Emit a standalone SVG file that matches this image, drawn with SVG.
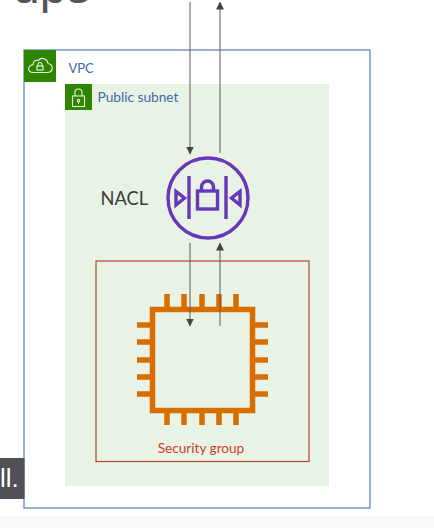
<svg xmlns="http://www.w3.org/2000/svg" width="434" height="528" viewBox="0 0 434 528">
<defs>
<marker id="ah" markerWidth="8" markerHeight="8" refX="7.500" refY="4" orient="auto" markerUnits="userSpaceOnUse"><path d="M0 0L8 4L0 8Z" fill="#444"/></marker>
</defs>
<style>
text{font-family:"Lato","Liberation Sans",sans-serif}
.conn{fill:none;stroke:#5a5a5a;stroke-width:1;marker-end:url(#ah)}
.wh{fill:none;stroke:#fff;stroke-width:1.1;opacity:.9}
.pur{fill:none;stroke:#6638b8;stroke-width:3.400}
.pin{stroke:#d96d00;stroke-width:5.500;fill:none}
</style>
<rect width="434" height="528" fill="#fff"/>
<rect y="516" width="434" height="12" fill="#f8f9f9"/>
<text x="13" y="3" font-size="48" fill="#555" style="font-family:'Liberation Sans',sans-serif">ups</text>
<g id="vpc">
<rect x="24" y="50" width="346" height="458" fill="#fff" stroke="#6f8fbd" stroke-width="1.400"/>
<rect x="24" y="50" width="32" height="32" fill="#2e8500"/>
<path class="wh" d="M33 72.500H47C53.500 72.500 54 64.500 48 63.500C47 58 40.500 57 38.500 60.500C35 59.500 33 62 33 64.500C27 66 27.500 72.500 33 72.500Z"/>
<rect class="wh" x="37" y="66" width="6" height="4"/><path class="wh" d="M38 66V64.500A2 2 0 0 1 42 64.500V66"/>
<text x="68.500" y="73" font-size="13" fill="#3f6aa8">VPC</text>
</g>
<g id="subnet">
<rect x="65" y="84" width="264" height="402" fill="#e8f2e5"/>
<rect x="65" y="84" width="27" height="26" fill="#2e8500"/>
<rect class="wh" x="72.500" y="96" width="12" height="10.500"/><path class="wh" d="M75 96V92.500A3.500 3.500 0 0 1 82 92.500V96"/><circle class="wh" cx="78.500" cy="100.500" r="1.200"/><path class="wh" d="M78.500 102V104"/>
<text x="97.500" y="102" font-size="13.700" fill="#3f6aa8">Public subnet</text>
</g>
<g id="security-group">
<rect x="96" y="261" width="213" height="200.500" fill="none" stroke="#b8452c" stroke-width="1.200"/>
<text x="201" y="453" font-size="13.600" fill="#c8402a" text-anchor="middle">Security group</text>
</g>
<g id="nacl">
<text x="100.500" y="205" font-size="18.300" fill="#3a3f3a">NACL</text>
<circle class="pur" cx="208" cy="198" r="40"/>
<path class="pur" d="M189 176V219M226 176V219"/>
<path class="pur" d="M176 191.500V205L184.500 198ZM240 191.500V205L231.500 198Z"/>
<rect class="pur" x="197.500" y="191" width="20" height="18"/>
<path class="pur" d="M201.500 191V187A6 6 0 0 1 213.500 187V191"/>
</g>
<g id="instance">
<rect x="152.500" y="309.500" width="100" height="101" fill="none" stroke="#d96d00" stroke-width="5.500"/>
<path class="pin" d="M167 294V307M184 294V307M202 294V307M219 294V307M236 294V307M167 413V425M184 413V425M202 413V425M219 413V425M236 413V425M137 325H150M137 342H150M137 360H150M137 377H150M137 394H150M255 325H268M255 342H268M255 360H268M255 377H268M255 394H268"/>
</g>
<g id="connectors">
<path class="conn" d="M190 2V154"/>
<path class="conn" d="M220 153V2"/>
<path class="conn" d="M190 243V326"/>
<path class="conn" d="M220 326V243"/>
</g>
<g id="caption">
<rect x="0" y="458" width="24.500" height="41" fill="#505056"/>
<text x="0" y="487" font-size="26" fill="#fff" style="font-family:'Liberation Sans',sans-serif">ll.</text>
</g>
</svg>
